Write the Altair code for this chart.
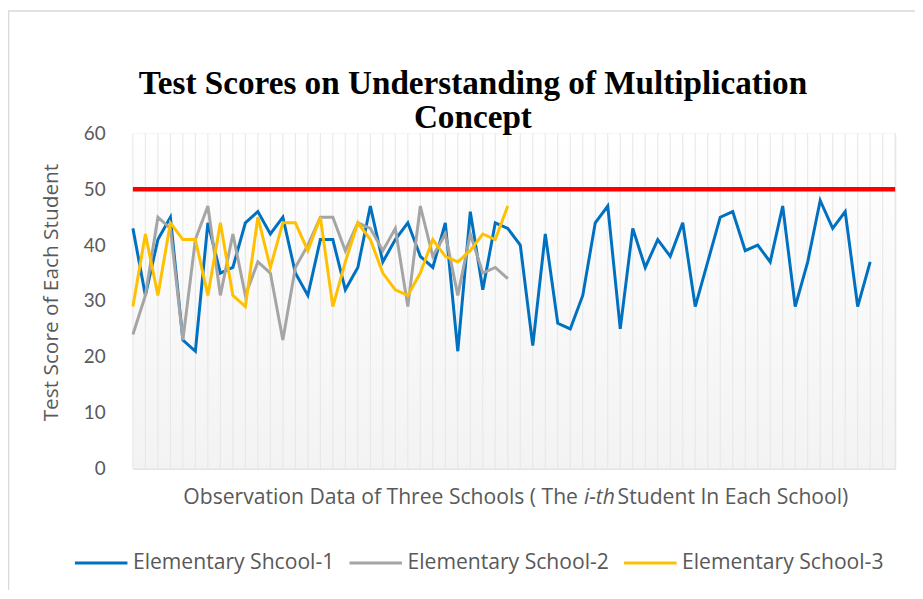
import altair as alt
import pandas as pd

# ---- data ----
students = list(range(1, 63))
school1 = [43, 31, 41, 45, 23, 21, 44, 35, 36, 44,
           46, 42, 45, 35, 31, 41, 41, 32, 36, 47,
           37, 41, 44, 38, 36, 44, 21, 46, 32, 44,
           43, 40, 22, 42, 26, 25, 31, 44, 47, 25,
           43, 36, 41, 38, 44, 29, 37, 45, 46, 39,
           40, 37, 47, 29, 37, 48, 43, 46, 29, 37]
school2 = [24, 31, 45, 43, 23, 41, 47, 31, 42, 31,
           37, 35, 23, 36, 40, 45, 45, 39, 44, 43,
           39, 43, 29, 47, 38, 42, 31, 42, 35, 36, 34]
school3 = [29, 42, 31, 44, 41, 41, 31, 44, 31, 29,
           45, 36, 44, 44, 39, 45, 29, 37, 44, 41,
           35, 32, 31, 35, 41, 38, 37, 39, 42, 41, 47]
target_score = 50
names = ["Elementary Shcool-1", "Elementary School-2", "Elementary School-3"]
colors = ["#0070C0", "#A5A5A5", "#FFC000"]
y_ticks = [0, 10, 20, 30, 40, 50, 60]
title_lines = ["Test Scores on Understanding of Multiplication", "Concept"]

W, H = 769, 338
FONT = "Open Sans"
FS = 21.3
GREY = "#595959"

def frame(vals, name):
    return pd.DataFrame({"student": students[:len(vals)], "score": vals, "school": name})

d1 = frame(school1, names[0])
d2 = frame(school2, names[1])
d3 = frame(school3, names[2])
dt = pd.DataFrame({"student": students, "score": [target_score] * len(students)})
one = pd.DataFrame({"k": [0]})

xs = alt.Scale(domain=[1, 62], nice=False, zero=False)
ys = alt.Scale(domain=[0, 60], nice=False)
cs = alt.Scale(domain=names, range=colors)

x_enc = alt.X("student:Q", scale=xs,
              axis=alt.Axis(title=None, labels=False, ticks=False, grid=False,
                            domain=True, domainColor="#d9d9d9", domainWidth=1))
y_enc = alt.Y("score:Q", scale=ys,
              axis=alt.Axis(title="Test Score of Each Student", values=y_ticks,
                            grid=False, domain=False, ticks=False,
                            labelFont="Lato", labelFontSize=19, labelColor=GREY,
                            labelPadding=28,
                            titleFont=FONT, titleFontSize=21, titleColor=GREY,
                            titleFontWeight="normal", titleX=-82, titleY=H / 2 - 9,
                            titleBaseline="middle", titleAngle=-90))

bg = alt.Chart(one).mark_rect(
    fill=alt.Gradient(gradient="linear",
                      stops=[alt.GradientStop(color="#ffffff", offset=0),
                             alt.GradientStop(color="#f3f3f3", offset=1)],
                      x1=0, x2=0, y1=0, y2=1)
).encode(x=alt.value(0), x2=alt.value(W), y=alt.value(0), y2=alt.value(H))

border = alt.Chart(one).mark_rect(fill=None, stroke="#d9d9d9", strokeWidth=1.5).encode(
    x=alt.value(-125.5), x2=alt.value(W + 300), y=alt.value(-123.5), y2=alt.value(H + 300))

grid = alt.Chart(dt).mark_rule(color="#e6e6e6", strokeWidth=1).encode(
    x=alt.X("student:Q", scale=xs), y=alt.value(0), y2=alt.value(H))

red = alt.Chart(dt).mark_line(color="#FF0000", strokeWidth=4.5).encode(x=x_enc, y=y_enc)

legend = alt.Legend(orient="none", legendX=-60, legendY=405, direction="horizontal",
                    title=None, symbolType="stroke", symbolSize=2809,
                    symbolStrokeWidth=3, labelFont=FONT, labelFontSize=FS,
                    labelColor=GREY, columnPadding=8, labelOffset=4, labelLimit=400)

def series(d):
    return alt.Chart(d).mark_line(strokeWidth=3).encode(
        x=alt.X("student:Q", scale=xs),
        y=alt.Y("score:Q", scale=ys),
        color=alt.Color("school:N", scale=cs, legend=legend))

s1, s2, s3 = series(d1), series(d2), series(d3)

xt_y = 368
xt_a = alt.Chart(one).mark_text(text="Observation Data of Three Schools ( The", font=FONT,
                                fontSize=FS, color=GREY, align="right", baseline="middle").encode(
    x=alt.value(449), y=alt.value(xt_y))
xt_b = alt.Chart(one).mark_text(text="i-th", font=FONT, fontSize=FS, fontStyle="italic",
                                color=GREY, align="left", baseline="middle").encode(
    x=alt.value(455), y=alt.value(xt_y))
xt_c = alt.Chart(one).mark_text(text="Student In Each School)", font=FONT, fontSize=FS,
                                color=GREY, align="left", baseline="middle").encode(
    x=alt.value(489), y=alt.value(xt_y))

t1 = alt.Chart(one).mark_text(text=title_lines[0], font="Liberation Serif", fontSize=33.5,
                              fontWeight="bold", color="black", align="center",
                              baseline="alphabetic").encode(x=alt.value(343), y=alt.value(-40))
t2 = alt.Chart(one).mark_text(text=title_lines[1], font="Liberation Serif", fontSize=33.5,
                              fontWeight="bold", color="black", align="center",
                              baseline="alphabetic").encode(x=alt.value(343), y=alt.value(-6))

chart = alt.layer(border, bg, grid, red, s1, s2, s3, xt_a, xt_b, xt_c, t1, t2).properties(
    width=W, height=H,
    autosize=alt.AutoSizeParams(type="none"),
    padding={"left": 126, "top": 124, "right": 20, "bottom": 120},
).configure_view(stroke=None).configure(background="white")

chart.save("out.html", embed_options={"renderer": "svg", "actions": False})
